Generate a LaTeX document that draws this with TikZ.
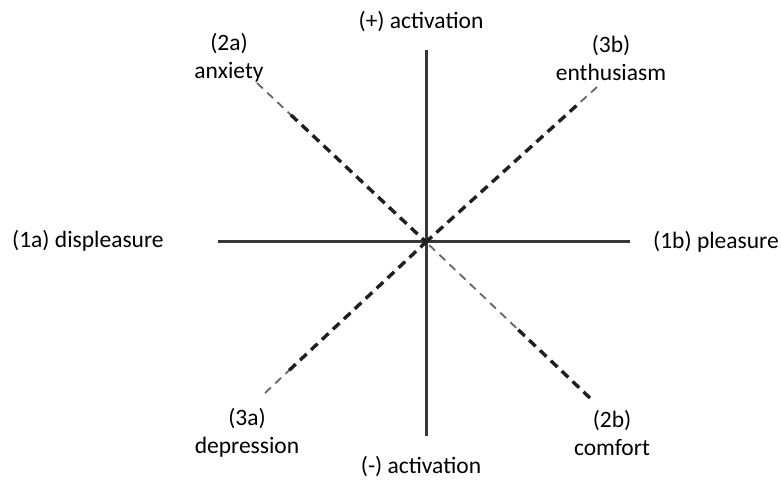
\documentclass[tikz,border=0pt]{standalone}
\usepackage{fontspec}
\setmainfont{Carlito}
\usetikzlibrary{calc}
\begin{document}
\begin{tikzpicture}[x=1pt,y=-1pt,
  lbl/.style={font=\fontsize{23.5}{28}\selectfont, text=black, inner sep=0pt, align=center},
  axis/.style={line width=3pt, draw=black!78},
  diagthin/.style={line width=1.8pt, draw=black!60, dash pattern=on 8pt off 6pt},
  diagthick/.style={line width=3.4pt, draw=black!88, dash pattern=on 9pt off 6pt}]
\useasboundingbox (0,0) rectangle (782,481);
% axes
\coordinate (O) at (426,242);
\coordinate (top) at (426,50);
\coordinate (bot) at (426,436);
\coordinate (left) at (218,242);
\coordinate (right) at (630,242);
\draw[axis] (left) -- (right);
\draw[axis] (top) -- (bot);
% diagonal ends
\coordinate (ul) at (257,83);
\coordinate (lr) at (590,398);
\coordinate (ur) at (597,87);
\coordinate (ll) at (265,393);
% diagonals: lighter at the ends, heavier towards the middle
\draw[diagthin] (ul) -- ($(ul)!0.2!(O)$);
\draw[diagthick] ($(ul)!0.2!(O)$) -- (O);
\draw[diagthin] ($(O)!0.55!(lr)$) -- (O);
\draw[diagthick] (lr) -- ($(lr)!0.45!(O)$);
\draw[diagthin] (ur) -- ($(ur)!0.12!(O)$);
\draw[diagthick] ($(ur)!0.12!(O)$) -- (O);
\draw[diagthin] (ll) -- ($(ll)!0.15!(O)$);
\draw[diagthick] ($(ll)!0.15!(O)$) -- (O);
% labels
\node[lbl] (pact) at (421,22) {(+) activation};
\node[lbl] (nact) at (421,467) {(-) activation};
\node[lbl, anchor=west] (disp) at (12,241) {(1a) displeasure};
\node[lbl, anchor=west] (plea) at (653,242) {(1b) pleasure};
\node[lbl] (anx) at (229,58) {(2a)\\anxiety};
\node[lbl] (ent) at (611,58) {(3b)\\enthusiasm};
\node[lbl] (dep) at (247,433) {(3a)\\depression};
\node[lbl] (com) at (612,433) {(2b)\\comfort};
\end{tikzpicture}
\end{document}
